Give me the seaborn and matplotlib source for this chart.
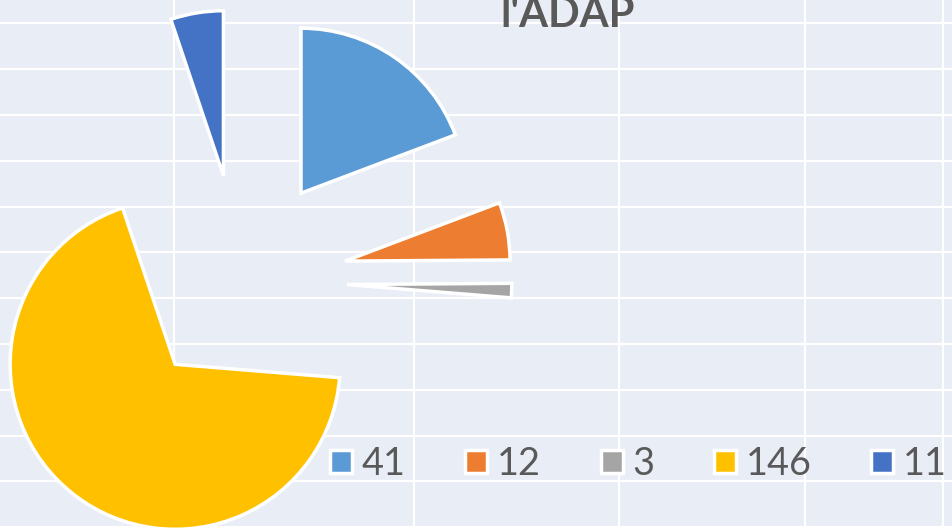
import matplotlib
matplotlib.use("Agg")
import matplotlib.pyplot as plt
import seaborn as sns

# data
labels = ["41", "12", "3", "146", "11"]
values = [41, 12, 3, 146, 11]
colors = ["#5B9BD5", "#ED7D31", "#A5A5A5", "#FFC000", "#4472C4"]
title = "l'ADAP"

sns.set_theme(style="darkgrid", rc={"axes.facecolor": "#E9EDF6"})
plt.rcParams["font.family"] = ["Lato", "DejaVu Sans"]

W, H = 952, 528
fig = plt.figure(figsize=(W / 100, H / 100), dpi=100)
ax = fig.add_axes([0, 0, 1, 1])

# layout: pie radius and centre in pixels, axes in units of the radius
R = 165.0
CX, CY = 240.6, 280.6


def px_x(x):
    return (x - CX) / R


def px_y(y):
    return (CY - y) / R


wedges, _ = ax.pie(values, colors=colors, startangle=90, counterclock=False,
                   explode=[0.644] * len(values), radius=1, frame=True,
                   wedgeprops=dict(edgecolor="white", linewidth=2.5))

ax.set_xlim(px_x(0), px_x(W))
ax.set_ylim(px_y(H), px_y(0))

# background grid
ax.set_xticks([px_x(v) for v in [174.3, 414.3, 619.3, 804.7, 943]])
ax.set_yticks([px_y(23.4 + 45.8 * k) for k in range(12)])
ax.tick_params(length=0, labelbottom=False, labelleft=False)
ax.grid(color="white", linewidth=1.6)
for s in ax.spines.values():
    s.set_visible(False)

leg = ax.legend(wedges, labels, loc="center left",
                bbox_to_anchor=(330 / W, 1 - 464 / H), bbox_transform=fig.transFigure,
                ncol=5, frameon=False, fontsize=27.3, handlelength=0.58, handleheight=0.56,
                handletextpad=0.25, columnspacing=1.58, borderpad=0, borderaxespad=0)
for t in leg.get_texts():
    t.set_color("#595959")

fig.text(567.5 / W, 1 - 26.7 / H, title, ha="center", va="baseline",
         fontsize=30, fontweight="bold", color="#595959")

fig.savefig("out.png", dpi=100)
